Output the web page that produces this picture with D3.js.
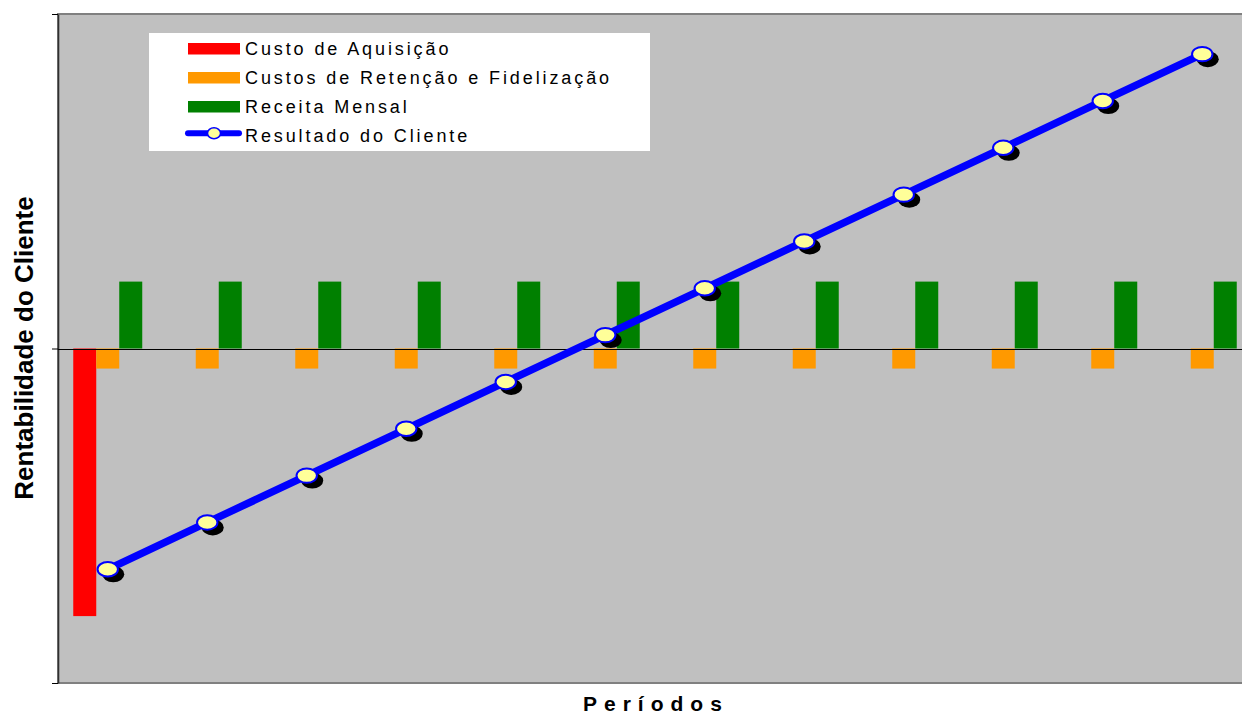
<!DOCTYPE html>
<html>
<head>
<meta charset="utf-8">
<script src="https://cdn.jsdelivr.net/npm/d3@7"></script>
<style>
  html, body { margin: 0; padding: 0; background: #ffffff; }
  svg { display: block; }
  text { font-family: "Liberation Sans", Arial, sans-serif; }
</style>
</head>
<body>
<svg id="chart" width="1242" height="715"></svg>
<script>
// ---- data ----
const periods = ["1","2","3","4","5","6","7","8","9","10","11","12"];
const seriesNames = ["Custo de Aquisição", "Custos de Retenção e Fidelização", "Receita Mensal"];
const custoAquisicao = [-40, 0, 0, 0, 0, 0, 0, 0, 0, 0, 0, 0];
const custosRetencao = [-3, -3, -3, -3, -3, -3, -3, -3, -3, -3, -3, -3];
const receitaMensal = [10, 10, 10, 10, 10, 10, 10, 10, 10, 10, 10, 10];
const resultadoCliente = [-33, -26, -19, -12, -5, 2, 9, 16, 23, 30, 37, 44];
const lineName = "Resultado do Cliente";
const yDomain = [-50, 50];
const yTicks = [-50, 0, 50];
const xTitle = "Períodos";
const yTitle = "Rentabilidade do Cliente";

// ---- styles ----
const colors = {
  "Custo de Aquisição": "#FF0000",
  "Custos de Retenção e Fidelização": "#FF9900",
  "Receita Mensal": "#008000"
};
const lineColor = "#0000FF";
const markerFill = "#FFFF99";

const svg = d3.select("#chart");
const pLeft = 58, pTop = 14, pBottom = 683, pRight = 1252;

const x0 = d3.scaleBand().domain(periods).range([pLeft, pRight]).paddingInner(0).paddingOuter(0);
const x1 = d3.scaleBand().domain(seriesNames).range([0, x0.bandwidth()]).paddingInner(0).paddingOuter(0.663);
const y = d3.scaleLinear().domain(yDomain).range([pBottom, pTop]);

// plot area
svg.append("rect")
  .attr("x", pLeft).attr("y", pTop)
  .attr("width", pRight - pLeft + 20).attr("height", pBottom - pTop)
  .attr("fill", "#C0C0C0")
  .attr("stroke", "#808080").attr("stroke-width", 2);

// bars
const seriesData = [
  { name: seriesNames[0], values: custoAquisicao },
  { name: seriesNames[1], values: custosRetencao },
  { name: seriesNames[2], values: receitaMensal }
];
const barRows = [];
seriesData.forEach(s => s.values.forEach((v, i) => { if (v !== 0) barRows.push({ s: s.name, p: periods[i], v }); }));
svg.append("g").selectAll("rect").data(barRows).join("rect")
  .attr("x", d => x0(d.p) + x1(d.s))
  .attr("width", x1.bandwidth())
  .attr("y", d => y(Math.max(0, d.v)))
  .attr("height", d => Math.abs(y(d.v) - y(0)))
  .attr("fill", d => colors[d.s]);

// y axis
const yAxis = svg.append("g").attr("transform", `translate(${pLeft},0)`)
  .call(d3.axisLeft(y).tickValues(yTicks).tickSize(6).tickSizeOuter(0).tickFormat(""));
yAxis.select(".domain").attr("stroke", "#303030").attr("stroke-width", 1.6);
yAxis.selectAll(".tick line").attr("stroke", "#000");

// zero line (category axis)
svg.append("line")
  .attr("x1", pLeft).attr("x2", 1242)
  .attr("y1", Math.round(y(0)) + 0.5).attr("y2", Math.round(y(0)) + 0.5)
  .attr("stroke", "#000").attr("stroke-width", 1.2);

// result line
const cx = (d, i) => x0(periods[i]) + x0.bandwidth() / 2;
svg.append("path")
  .datum(resultadoCliente)
  .attr("d", d3.line().x(cx).y(d => y(d)))
  .attr("fill", "none")
  .attr("stroke", lineColor)
  .attr("stroke-width", 7.5)
  .attr("stroke-linejoin", "round");

// markers with shadows
const mk = svg.append("g").selectAll("g").data(resultadoCliente).join("g");
mk.append("ellipse")
  .attr("cx", (d, i) => cx(d, i) + 5.5).attr("cy", d => y(d) + 5)
  .attr("rx", 11).attr("ry", 8).attr("fill", "#000");
mk.append("ellipse")
  .attr("cx", cx).attr("cy", d => y(d))
  .attr("rx", 10.2).attr("ry", 7.2)
  .attr("fill", markerFill).attr("stroke", lineColor).attr("stroke-width", 2);

// legend
const lg = svg.append("g");
lg.append("rect").attr("x", 149).attr("y", 33).attr("width", 501).attr("height", 118).attr("fill", "#fff");
const legendItems = seriesNames.concat([lineName]);
const rowBase = [55, 84, 113, 141.7];
legendItems.forEach((name, i) => {
  const b = rowBase[i];
  if (i < 3) {
    lg.append("rect").attr("x", 188).attr("y", b - 12).attr("width", 52).attr("height", 11.5).attr("fill", colors[name]);
  } else {
    lg.append("line").attr("x1", 188).attr("x2", 239).attr("y1", b - 8.4).attr("y2", b - 8.4)
      .attr("stroke", lineColor).attr("stroke-width", 6).attr("stroke-linecap", "round");
    lg.append("ellipse").attr("cx", 214).attr("cy", b - 8.4).attr("rx", 6.5).attr("ry", 5.5)
      .attr("fill", markerFill).attr("stroke", lineColor).attr("stroke-width", 1.5);
  }
  lg.append("text").attr("x", 245).attr("y", b)
    .attr("font-size", 18).attr("letter-spacing", 2.9).attr("fill", "#000")
    .text(name);
});

// axis titles
svg.append("text")
  .attr("x", 583).attr("y", 711)
  .attr("font-size", 21).attr("font-weight", "bold").attr("letter-spacing", 7)
  .text(xTitle);
svg.append("text")
  .attr("transform", "translate(33,348) rotate(-90)")
  .attr("text-anchor", "middle")
  .attr("font-size", 26).attr("font-weight", "bold")
  .text(yTitle);
</script>
</body>
</html>
